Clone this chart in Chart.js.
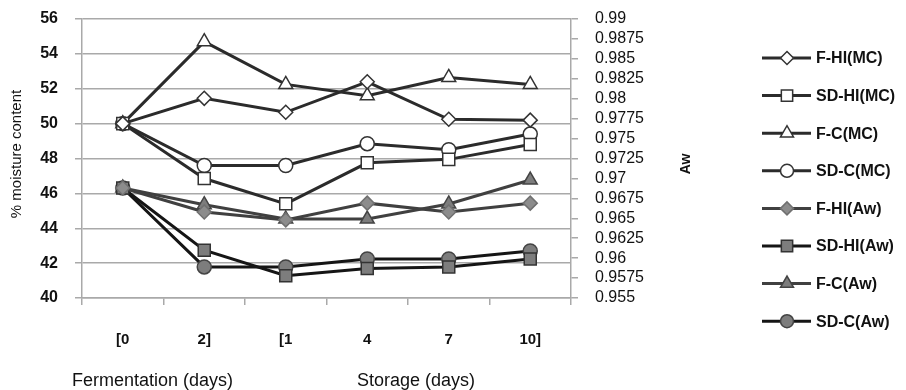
<!DOCTYPE html>
<html>
<head>
<meta charset="utf-8">
<script src="https://cdn.jsdelivr.net/npm/chart.js@4/dist/chart.umd.min.js"></script>
<style>
  body { margin: 0; background: #fff; }
  #wrap { width: 906px; height: 390px; position: relative; }
</style>
</head>
<body>
<div id="wrap"><canvas id="c"></canvas></div>
<script>
// data
const days = ['[0', '2]', '[1', '4', '7', '10]'];

const fhiMC  = [50.0, 51.45, 50.65, 52.4, 50.25, 50.2];
const sdhiMC = [50.0, 46.85, 45.4, 47.75, 47.95, 48.8];
const fcMC   = [50.0, 54.7, 52.25, 51.6, 52.65, 52.25];
const sdcMC  = [50.0, 47.6, 47.6, 48.85, 48.5, 49.4];

const fhiAw  = [0.9688, 0.9658, 0.9648, 0.9669, 0.9658, 0.9669];
const sdhiAw = [0.9688, 0.9610, 0.9578, 0.9587, 0.9589, 0.9599];
const fcAw   = [0.9688, 0.9667, 0.9649, 0.9649, 0.9668, 0.9698];
const sdcAw  = [0.9688, 0.9589, 0.9589, 0.9599, 0.9599, 0.9609];

const FONT = "'Liberation Sans', Arial, sans-serif";
const GRID = '#a9a9a9';

function series(label, data, axis, style, radius, fill, border, lineColor) {
    return {
        label: label,
        data: data,
        yAxisID: axis,
        borderColor: lineColor,
        borderWidth: 3,
        tension: 0,
        fill: false,
        pointStyle: style,
        pointRadius: radius,
        pointHoverRadius: radius,
        pointBackgroundColor: fill,
        pointBorderColor: border,
        pointBorderWidth: 1.5,
        clip: false
    };
}

const datasets = [
    series('F-HI(MC)', fhiMC, 'y', 'rectRot', 7, '#fff', '#333', '#2b2b2b'),
    series('SD-HI(MC)', sdhiMC, 'y', 'rect', 8.5, '#fff', '#333', '#2b2b2b'),
    series('F-C(MC)', fcMC, 'y', 'triangle', 8, '#fff', '#333', '#2b2b2b'),
    series('SD-C(MC)', sdcMC, 'y', 'circle', 7, '#fff', '#333', '#2b2b2b'),
    series('F-HI(Aw)', fhiAw, 'y1', 'rectRot', 7, '#8c8c8c', '#707070', '#404040'),
    series('SD-HI(Aw)', sdhiAw, 'y1', 'rect', 8.5, '#7d7d7d', '#333', '#151515'),
    series('F-C(Aw)', fcAw, 'y1', 'triangle', 8, '#7d7d7d', '#444', '#404040'),
    series('SD-C(Aw)', sdcAw, 'y1', 'circle', 7, '#7d7d7d', '#444', '#151515')
];

function marker(ctx, style, x, y, r, fill, stroke) {
    ctx.beginPath();
    if (style === 'circle') {
        ctx.arc(x, y, r, 0, Math.PI * 2);
    } else if (style === 'rect') {
        const h = r * Math.SQRT1_2;
        ctx.rect(x - h, y - h, 2 * h, 2 * h);
    } else if (style === 'rectRot') {
        ctx.moveTo(x - r, y); ctx.lineTo(x, y - r); ctx.lineTo(x + r, y); ctx.lineTo(x, y + r);
        ctx.closePath();
    } else if (style === 'triangle') {
        const e = 3 * r / Math.sqrt(3), h = e * Math.sqrt(3) / 2;
        ctx.moveTo(x - e / 2, y + h / 3); ctx.lineTo(x, y - 2 * h / 3); ctx.lineTo(x + e / 2, y + h / 3);
        ctx.closePath();
    }
    ctx.fillStyle = fill; ctx.fill();
    ctx.lineWidth = 1.5; ctx.strokeStyle = stroke; ctx.stroke();
}

// titles and the right-hand legend
const extras = {
    id: 'extras',
    afterDraw(chart) {
        const ctx = chart.ctx;
        ctx.save();
        ctx.fillStyle = '#111';
        ctx.textBaseline = 'middle';

        ctx.save();
        ctx.translate(17, 154);
        ctx.rotate(-Math.PI / 2);
        ctx.textAlign = 'center';
        ctx.font = '15px ' + FONT;
        ctx.fillText('% moisture content', 0, 0);
        ctx.restore();

        ctx.save();
        ctx.translate(686, 164);
        ctx.rotate(-Math.PI / 2);
        ctx.textAlign = 'center';
        ctx.font = 'bold 14px ' + FONT;
        ctx.fillText('Aw', 0, 0);
        ctx.restore();

        ctx.textAlign = 'left';
        ctx.font = '18px ' + FONT;
        ctx.fillText('Fermentation (days)', 72, 381);
        ctx.fillText('Storage (days)', 357, 381);

        ctx.font = 'bold 16px ' + FONT;
        chart.data.datasets.forEach((ds, i) => {
            const y = 58 + i * 37.6;
            ctx.beginPath();
            ctx.moveTo(762, y); ctx.lineTo(811, y);
            ctx.lineWidth = 3; ctx.strokeStyle = ds.borderColor; ctx.stroke();
            marker(ctx, ds.pointStyle, 787, y, ds.pointRadius - 0.5, ds.pointBackgroundColor, ds.pointBorderColor);
            ctx.fillStyle = '#111';
            ctx.fillText(ds.label, 816, y + 1);
        });
        ctx.restore();
    }
};

new Chart(document.getElementById('c'), {
    type: 'line',
    data: { labels: days, datasets: datasets },
    options: {
        responsive: true,
        maintainAspectRatio: false,
        animation: false,
        layout: { padding: { top: 19, right: 215, left: 0, bottom: 0 } },
        plugins: { legend: { display: false }, tooltip: { enabled: false } },
        scales: {
            x: {
                offset: true,
                grid: { offset: true, drawOnChartArea: false, color: GRID, tickLength: 7, lineWidth: 1.5 },
                border: { color: GRID, width: 1.5 },
                ticks: { color: '#111', font: { family: FONT, size: 15, weight: 'bold' }, padding: 26, maxRotation: 0 },
                afterFit: s => { s.height = 92; s.paddingLeft = 0; s.paddingRight = 0; }
            },
            y: {
                position: 'left',
                min: 40, max: 56,
                ticks: { stepSize: 2, color: '#111', font: { family: FONT, size: 16, weight: 'bold' }, padding: 17 },
                grid: { color: GRID, tickLength: 7, lineWidth: 1.5 },
                border: { color: GRID, width: 1.5 },
                afterFit: s => { s.width = 82; s.paddingTop = 0; s.paddingBottom = 0; }
            },
            y1: {
                position: 'right',
                min: 0.955, max: 0.99,
                ticks: {
                    stepSize: 0.0025,
                    autoSkip: false,
                    color: '#111',
                    font: { family: FONT, size: 16 },
                    padding: 17,
                    callback: v => String(Number(v.toFixed(4)))
                },
                grid: { drawOnChartArea: false, color: GRID, tickLength: 7, lineWidth: 1.5 },
                border: { color: GRID, width: 1.5 },
                afterFit: s => { s.width = 120; s.paddingTop = 0; s.paddingBottom = 0; }
            }
        }
    },
    plugins: [extras]
});
</script>
</body>
</html>
